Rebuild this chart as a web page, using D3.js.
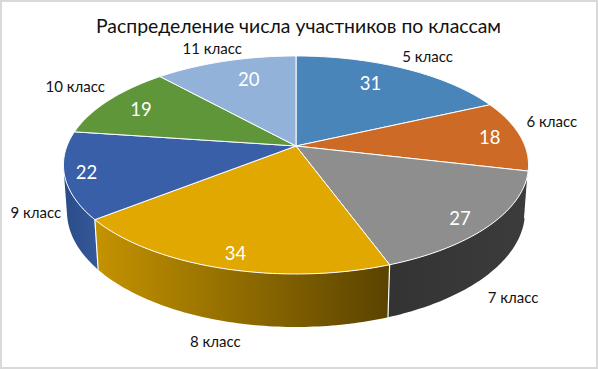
<!DOCTYPE html>
<html lang="ru">
<head>
	<meta charset="UTF-8">
	<title>Распределение числа участников по классам</title>
	<style>
		html, body { margin: 0; padding: 0; background: #fff; }
		svg { display: block; }
		text { font-family: Lato, "Open Sans", sans-serif; text-anchor: middle; dominant-baseline: central; }
	</style>
	<script src="https://cdn.jsdelivr.net/npm/d3@7"></script>
</head>
<body>
	<script>
		var chartTitle = "Распределение числа участников по классам";
		var classNames = ["5 класс", "6 класс", "7 класс", "8 класс", "9 класс", "10 класс", "11 класс"];
		var participants = [31, 18, 27, 34, 22, 19, 20];

		var topColors = ["#4a85b9", "#cc6a26", "#8e8e8e", "#e0a800", "#3a5fa9", "#60963a", "#92b2d9"];
		// right and left colour of the side wall
		var wallColors = [
			["#3a6a94", "#3a6a94"], ["#a3551e", "#a3551e"], ["#333333", "#3c3c3c"], ["#c49300", "#5a4300"],
			["#2a4c88", "#34599b"], ["#4d782e", "#4d782e"], ["#7590b0", "#7590b0"]
		];
		// label offsets from the place computed on the pie
		var valueNudge = [[-14, 1], [14, -1], [13, 10], [-3, 13], [-26, 3], [-3, 0], [11, 3]];
		var nameNudge = [[10, -2], [-1, -13], [-10, 58], [8, 50], [8, 32], [-8, -8], [-4, -2]];

		var width = 598,
			height = 369,
			cx = 296,
			cy = 146,
			radiusX = 229,	// horizontal radius
			radiusY = 105.7,	// vertical radius before perspective
			depth = 46.5,	// pie thickness
			persp = 0.174,	// foreshortening towards the viewer
			perspZ = 0.015;

		var svg = d3.select("body").append("svg")
					.attr("width", width)
					.attr("height", height);

		var defs = svg.append("defs");

		// angle clockwise from 12 o'clock, f = part of radius, z = 0 top face, 1 bottom face
		function project(angle, f, z) {
			var u = Math.sin(angle) * f,
				v = -Math.cos(angle) * f,
				w = 1 - persp * v + perspZ * z;
			return [cx + radiusX * u / w, cy + (radiusY * v + depth * z) / w];
		}

		function sampleAngles(a0, a1) {
			var n = Math.max(2, Math.ceil((a1 - a0) * 60));
			return d3.range(n + 1).map(function(i) {
				return a0 + (a1 - a0) * i / n;
			});
		}

		var line = d3.line();

		var pie = d3.pie().sort(null).value(function(d) { return d; });
		var slices = pie(participants);

		// the wall is seen only where the rim faces the camera
		var rimV = persp + perspZ * radiusY / depth;
		var wallStart = Math.PI - Math.acos(rimV),
			wallEnd = Math.PI + Math.acos(rimV);

		svg.append("rect")
			.attr("x", 1)
			.attr("y", 1)
			.attr("width", width - 2)
			.attr("height", height - 2)
			.attr("fill", "#fff")
			.attr("stroke", "#d9d9d9")
			.attr("stroke-width", 2);

		// side walls
		slices.forEach(function(d, i) {
			var a0 = Math.max(d.startAngle, wallStart),
				a1 = Math.min(d.endAngle, wallEnd);
			if (a1 <= a0) return;

			var angles = sampleAngles(a0, a1);
			var upper = angles.map(function(a) { return project(a, 1, 0); });
			var lower = angles.map(function(a) { return project(a, 1, 1); }).reverse();

			var gradId = "wall" + i;
			var grad = defs.append("linearGradient")
				.attr("id", gradId)
				.attr("gradientUnits", "userSpaceOnUse")
				.attr("x1", d3.max(upper.concat(lower), function(p) { return p[0]; }))
				.attr("x2", d3.min(upper.concat(lower), function(p) { return p[0]; }))
				.attr("y1", 0)
				.attr("y2", 0);
			grad.append("stop").attr("offset", 0).attr("stop-color", wallColors[i][1]);
			grad.append("stop").attr("offset", 1).attr("stop-color", wallColors[i][0]);

			svg.append("path")
				.attr("class", "wall")
				.attr("d", line(upper.concat(lower)) + "Z")
				.attr("fill", "url(#" + gradId + ")");
		});

		// white seams between the walls
		slices.forEach(function(d) {
			if (d.endAngle <= wallStart || d.endAngle >= wallEnd) return;
			svg.append("path")
				.attr("d", line([project(d.endAngle, 1, 0), project(d.endAngle, 1, 1)]))
				.attr("stroke", "#fff")
				.attr("stroke-width", 1.2)
				.attr("fill", "none");
		});

		// top face
		slices.forEach(function(d, i) {
			var rim = sampleAngles(d.startAngle, d.endAngle).map(function(a) { return project(a, 1, 0); });
			svg.append("path")
				.attr("class", "slice")
				.attr("d", line([project(0, 0, 0)].concat(rim)) + "Z")
				.attr("fill", topColors[i])
				.attr("stroke", "#fff")
				.attr("stroke-width", 1)
				.attr("stroke-linejoin", "round");
		});

		// numbers on the slices
		slices.forEach(function(d, i) {
			var mid = (d.startAngle + d.endAngle) / 2,
				p = project(mid, 0.8, 0);
			svg.append("text")
				.attr("x", p[0] + valueNudge[i][0])
				.attr("y", p[1] + valueNudge[i][1])
				.attr("fill", "#fff")
				.attr("font-size", 18.5)
				.text(d.value);
		});

		// class names round the pie
		slices.forEach(function(d, i) {
			var mid = (d.startAngle + d.endAngle) / 2,
				p = project(mid, 1.15, 0);
			svg.append("text")
				.attr("x", p[0] + nameNudge[i][0])
				.attr("y", p[1] + nameNudge[i][1])
				.attr("fill", "#111")
				.attr("font-size", 15)
				.text(classNames[i]);
		});

		svg.append("text")
			.attr("x", 298.5)
			.attr("y", 25)
			.attr("fill", "#111")
			.attr("font-size", 19.4)
			.text(chartTitle);
	</script>
</body>
</html>
